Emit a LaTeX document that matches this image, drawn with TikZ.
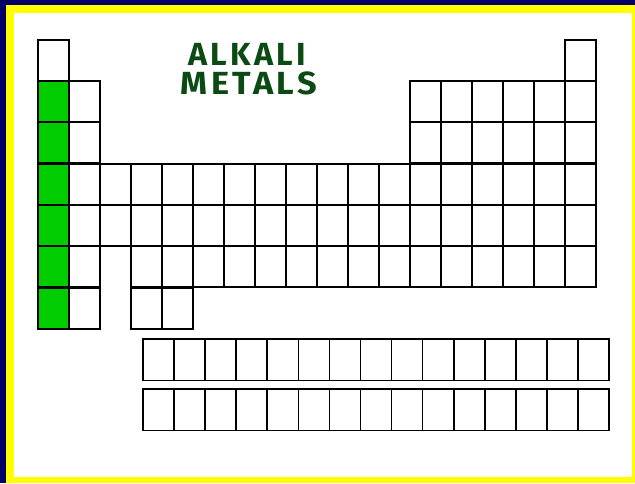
\documentclass[tikz,border=0pt]{standalone}
\usepackage{fontspec}
\setmainfont{Fira Sans}
\definecolor{navyb}{HTML}{000066}
\definecolor{yelb}{HTML}{FFFF00}
\definecolor{alkgreen}{HTML}{00CC00}
\definecolor{txtgreen}{HTML}{0B4A12}
\tikzset{
  cell/.style={draw=black, line width=1.6pt, minimum width=31pt, minimum height=41pt, inner sep=0pt, outer sep=0pt, anchor=north west},
  lcell/.style={cell, minimum width=31.07pt, minimum height=41.5pt},
  alk/.style={fill=alkgreen},
  title/.style={text=txtgreen, font=\fontsize{33}{33}\selectfont\bfseries\addfontfeatures{LetterSpace=10}, inner sep=0pt}
}
\begin{document}
\begin{tikzpicture}[x=1pt,y=-1pt]
\useasboundingbox (0,0) rectangle (635,483);
\fill[navyb] (0,0) rectangle (635,483);
\fill[yelb] (6,5) rectangle (635,483);
\fill[white] (14,13) rectangle (632,477);
% row 1
\node[cell] (c-1-1) at (38,40) {};
\node[cell] (c-1-18) at (565,40) {};
% rows 2,3
\foreach \r/\y in {2/81,3/122}{
  \node[cell,alk] (c-\r-1) at (38,\y) {};
  \node[cell] (c-\r-2) at (69,\y) {};
  \foreach \c in {13,...,18}{
    \node[cell] (c-\r-\c) at ({38+(\c-1)*31},\y) {};
  }
}
% rows 4,5
\foreach \r/\y in {4/164,5/205}{
  \node[cell,alk] (c-\r-1) at (38,\y) {};
  \foreach \c in {2,...,18}{
    \node[cell] (c-\r-\c) at ({38+(\c-1)*31},\y) {};
  }
}
% row 6
\node[cell,alk] (c-6-1) at (38,246) {};
\node[cell] (c-6-2) at (69,246) {};
\foreach \c in {4,...,18}{
  \node[cell] (c-6-\c) at ({38+(\c-1)*31},246) {};
}
% row 7
\node[cell,alk] (c-7-1) at (38,288) {};
\node[cell] (c-7-2) at (69,288) {};
\node[cell] (c-7-4) at (131,288) {};
\node[cell] (c-7-5) at (162,288) {};
% f-block rows
\foreach \c in {1,...,15}{
  \node[lcell] (la-\c) at ({143+(\c-1)*31.07},339) {};
  \node[lcell] (ac-\c) at ({143+(\c-1)*31.07},389) {};
}
% title
\node[title] (t1) at (247,54) {\scalebox{0.98}[0.97]{ALKALI}};
\node[title] (t2) at (249,83) {\scalebox{1.04}[0.97]{METALS}};
\end{tikzpicture}
\end{document}
